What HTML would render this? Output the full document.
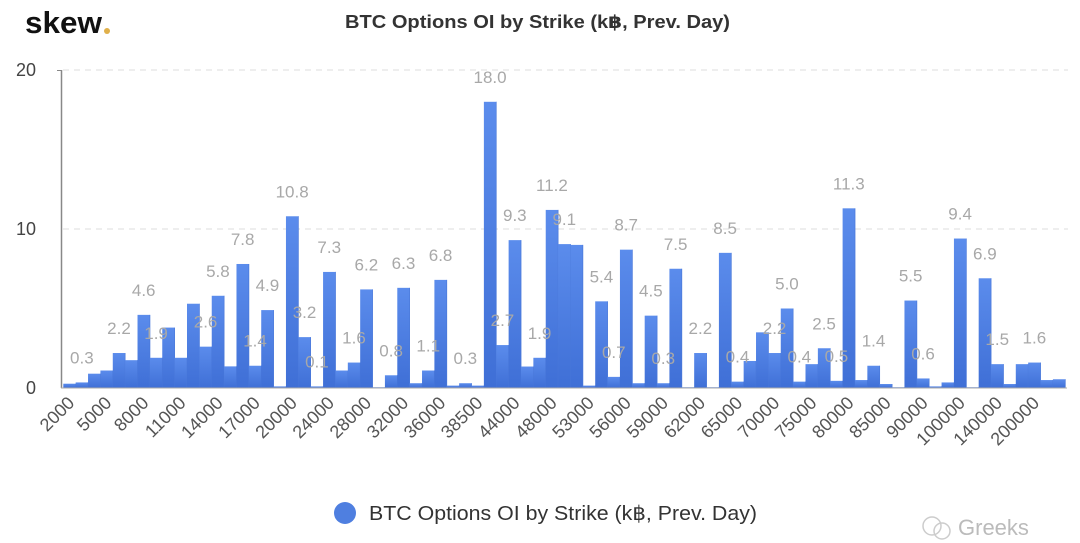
<!DOCTYPE html>
<html><head><meta charset="utf-8"><style>
html,body{margin:0;padding:0;background:#fff;width:1080px;height:543px;overflow:hidden}
text{font-family:"Liberation Sans","DejaVu Sans",sans-serif}
</style></head><body>
<svg width="1080" height="543" viewBox="0 0 1080 543" xmlns="http://www.w3.org/2000/svg">
<defs><linearGradient id="g" x1="0" y1="0" x2="0" y2="1"><stop offset="0" stop-color="#5b8cec"/><stop offset="1" stop-color="#3f6fd6"/></linearGradient></defs>
<text x="25" y="33" font-size="31" font-weight="bold" fill="#111" textLength="77" lengthAdjust="spacingAndGlyphs">skew</text>
<circle cx="107" cy="31" r="3" fill="#e0b04a"/>
<text x="345" y="28" font-size="18" font-weight="bold" fill="#333" textLength="385" lengthAdjust="spacingAndGlyphs">BTC Options OI by Strike (k฿, Prev. Day)</text>
<line x1="63" y1="70" x2="1068" y2="70" stroke="#ddd" stroke-dasharray="6,5"/>
<line x1="63" y1="229" x2="1068" y2="229" stroke="#ddd" stroke-dasharray="6,5"/>
<g font-size="18" fill="#444" text-anchor="end"><text x="36" y="76">20</text><text x="36" y="235">10</text><text x="36" y="394">0</text></g>
<g id="bars"></g>
<line x1="61.5" y1="70" x2="61.5" y2="388" stroke="#888" stroke-width="1.5"/>
<line x1="57" y1="70.5" x2="62" y2="70.5" stroke="#888"/>
<line x1="61" y1="388" x2="1067" y2="388" stroke="#aaa"/>
<g id="lbl"></g>
<g id="xl"></g>
<circle cx="345" cy="513" r="11" fill="#4f7fe0"/>
<text x="369" y="520" font-size="20" fill="#333" textLength="388" lengthAdjust="spacingAndGlyphs">BTC Options OI by Strike (k฿, Prev. Day)</text>
<text x="958" y="535" font-size="22" fill="#bbb">Greeks</text>
<circle cx="932" cy="526" r="9" fill="none" stroke="#ccc" stroke-width="1.5"/>
<circle cx="942" cy="531" r="8" fill="none" stroke="#ccc" stroke-width="1.5"/>
</svg>
<script>
var v=[0.27,0.35,0.9,1.1,2.2,1.75,4.6,1.9,3.8,1.9,5.3,2.6,5.8,1.36,7.8,1.4,4.9,0.1,10.8,3.2,0.1,7.3,1.1,1.6,6.2,0.05,0.8,6.3,0.3,1.1,6.8,0.15,0.3,0.15,18.0,2.7,9.3,1.35,1.9,11.2,9.05,9.0,0.15,5.45,0.7,8.7,0.3,4.55,0.3,7.5,0.05,2.2,0.05,8.5,0.4,1.7,3.5,2.2,5.0,0.4,1.5,2.5,0.45,11.3,0.5,1.4,0.25,0.05,5.5,0.6,0.1,0.35,9.4,0.05,6.9,1.5,0.25,1.5,1.6,0.5,0.55];
var L={1:"0.3",4:"2.2",6:"4.6",7:"1.9",11:"2.6",12:"5.8",14:"7.8",15:"1.4",16:"4.9",18:"10.8",19:"3.2",20:"0.1",21:"7.3",23:"1.6",24:"6.2",26:"0.8",27:"6.3",29:"1.1",30:"6.8",32:"0.3",34:"18.0",35:"2.7",36:"9.3",38:"1.9",39:"11.2",40:"9.1",43:"5.4",44:"0.7",45:"8.7",47:"4.5",48:"0.3",49:"7.5",51:"2.2",53:"8.5",54:"0.4",57:"2.2",58:"5.0",59:"0.4",61:"2.5",62:"0.5",63:"11.3",65:"1.4",68:"5.5",69:"0.6",72:"9.4",74:"6.9",75:"1.5",78:"1.6"};
var xs=["2000","5000","8000","11000","14000","17000","20000","24000","28000","32000","36000","38500","44000","48000","53000","56000","59000","62000","65000","70000","75000","80000","85000","90000","100000","140000","200000"];
var x0=63.3,w=12.37,b=388,k=15.9,ns="http://www.w3.org/2000/svg";
var B=document.getElementById("bars"),T=document.getElementById("lbl"),X=document.getElementById("xl");
function el(n,a,t){var e=document.createElementNS(ns,n);for(var i in a)e.setAttribute(i,a[i]);if(t)e.textContent=t;return e;}
v.forEach(function(d,i){var h=d*k,x=x0+i*w;
B.appendChild(el("rect",{x:x,y:b-h,width:w+0.3,height:h,fill:"url(#g)"}));
B.appendChild(el("line",{x1:x+w,y1:b-h,x2:x+w,y2:b,stroke:"#4a78d8","stroke-width":0.6}));
if(L[i])T.appendChild(el("text",{x:x+w/2,y:b-h-19,"font-size":17,fill:"#a8a8a8","text-anchor":"middle"},L[i]));});
xs.forEach(function(s,j){var cx=x0+(j*3+0.5)*w;
X.appendChild(el("text",{x:0,y:0,"font-size":18,fill:"#555","text-anchor":"end",transform:"translate("+(cx+6)+",404) rotate(-45)"},s));});
</script>
</body></html>
